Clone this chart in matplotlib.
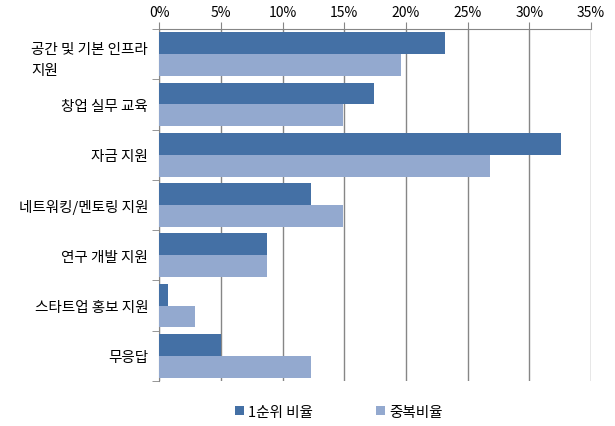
import numpy as np
import matplotlib
matplotlib.use('Agg')
import matplotlib.pyplot as plt
from matplotlib.ticker import FuncFormatter, FixedLocator

plt.rcParams['font.family'] = ['Noto Sans CJK KR', 'DejaVu Sans']

categories = ['공간 및 기본 인프라\n지원', '창업 실무 교육', '자금 지원', '네트워킹/멘토링 지원',
              '연구 개발 지원', '스타트업 홍보 지원', '무응답']
first_rank = [23.2, 17.4, 32.6, 12.3, 8.7, 0.7, 5.0]
overlap = [19.6, 14.9, 26.8, 14.9, 8.7, 2.9, 12.3]
series_names = ['1순위 비율', '중복비율']
colors = ['#4470A5', '#93A9CF']
xticks = [0, 5, 10, 15, 20, 25, 30, 35]

fig = plt.figure(figsize=(6.15, 4.27), dpi=100)
ax = fig.add_axes([0.259, 0.1054, 0.702, 0.8243])

n = len(categories)
y = np.arange(n)
h = 0.435
ax.barh(y - h / 2, first_rank, h, color=colors[0], label=series_names[0], zorder=3)
ax.barh(y + h / 2, overlap, h, color=colors[1], label=series_names[1], zorder=3)

ax.set_ylim(n - 0.5, -0.5)
ax.set_xlim(0, 35)
ax.set_xticks(xticks)
ax.xaxis.set_major_formatter(FuncFormatter(lambda v, p: '%d%%' % v))
ax.xaxis.tick_top()
ax.tick_params(axis='x', which='major', direction='out', length=5, color='#868686',
               labelsize=10, pad=2, labelcolor='black')
ax.grid(axis='x', color='#868686', linewidth=1, zorder=0)

ax.set_yticks(y)
ax.set_yticklabels(categories, fontsize=10.5, multialignment='left', linespacing=1.7)
ax.yaxis.set_minor_locator(FixedLocator(np.arange(-0.5, n, 1)))
ax.tick_params(axis='y', which='major', length=0, pad=8)
ax.tick_params(axis='y', which='minor', length=5, color='#868686', direction='out')

for s in ['right', 'bottom']:
    ax.spines[s].set_visible(False)
ax.spines['top'].set_color('#868686')
ax.spines['left'].set_color('#868686')

leg = fig.legend(loc='center', bbox_to_anchor=(0.551, 0.033), ncol=2, frameon=False,
                 fontsize=10.5, handlelength=0.6, handleheight=0.6, handletextpad=0.3,
                 columnspacing=4.3)

fig.savefig('out.png', dpi=100)
